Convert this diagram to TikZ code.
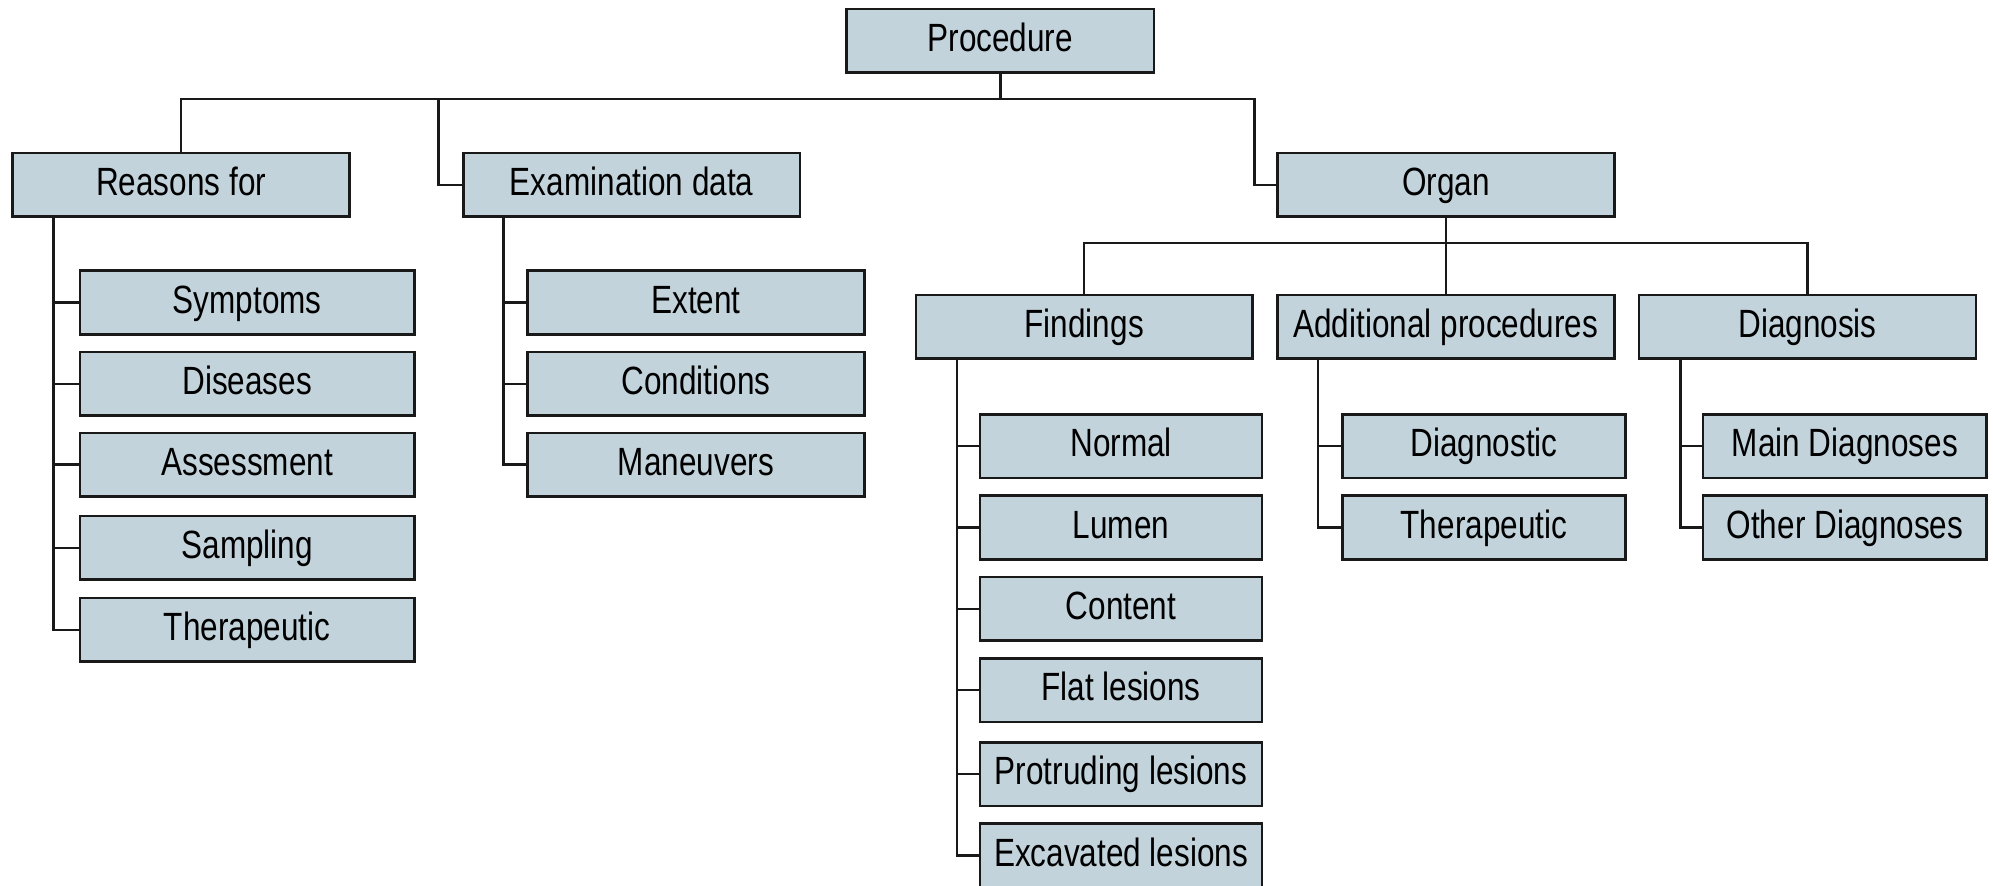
\documentclass[tikz,border=0pt]{standalone}
\usepackage{fontspec}
\setmainfont[FakeStretch=0.8]{Liberation Sans}
\definecolor{boxfill}{RGB}{194,211,220}
\begin{document}
\begin{tikzpicture}[x=1pt,y=-1pt,
  box/.style={draw=black!90, fill=boxfill, line width=2pt, inner sep=0pt,
    minimum width=265pt, minimum height=50pt, text height=23pt, text depth=6pt,
    font=\fontsize{31}{36}\selectfont},
  cw/.style={minimum width=#1pt},
  conn/.style={draw=black!90, line width=2pt}]
\useasboundingbox (0,0) rectangle (1568,697);
% top
\node[box,cw=242] (proc) at (787,32) {Procedure};
\node[box] (reasons) at (142.5,145.5) {Reasons for};
\node[box] (exam) at (497,145.5) {Examination data};
\node[box] (organ) at (1137.5,145.5) {Organ};
% reasons children
\node[box,cw=263] (rsym) at (194.5,238) {Symptoms};
\node[box,cw=263] (rdis) at (194.5,302) {Diseases};
\node[box,cw=263] (rass) at (194.5,365.5) {Assessment};
\node[box,cw=263] (rsam) at (194.5,431) {Sampling};
\node[box,cw=263] (rthe) at (194.5,495.5) {Therapeutic};
% exam children
\node[box] (eext) at (547.5,238) {Extent};
\node[box] (econ) at (547.5,302) {Conditions};
\node[box] (eman) at (547.5,365.5) {Maneuvers};
% organ children
\node[box] (find) at (853,257) {Findings};
\node[box] (addp) at (1137.5,257) {Additional procedures};
\node[box] (diag) at (1422,257) {Diagnosis};
% findings children
\node[box,cw=222] (fnor) at (882,351) {Normal};
\node[box,cw=222] (flum) at (882,415) {Lumen};
\node[box,cw=222] (fcon) at (882,479) {Content};
\node[box,cw=222] (fflt) at (882,543) {Flat lesions};
\node[box,cw=222] (fpro) at (882,609) {Protruding lesions};
\node[box,cw=222] (fexc) at (882,673) {Excavated lesions};
% additional children
\node[box,cw=223] (adia) at (1167.5,351) {Diagnostic};
\node[box,cw=223] (athe) at (1167.5,415) {Therapeutic};
% diagnosis children
\node[box,cw=223] (dmai) at (1451.5,351) {Main Diagnoses};
\node[box,cw=223] (doth) at (1451.5,415) {Other Diagnoses};
% coordinates
\coordinate (busR) at (987,78);
\coordinate (busE) at (345,78);
\coordinate (ob) at (1137.5,191);
\coordinate (rt) at (42,170);
\coordinate (et) at (396,170);
\coordinate (ft) at (753,282);
\coordinate (at) at (1037,282);
\coordinate (dt) at (1322,282);
% top connectors
\draw[conn] (proc.south) -- (proc.south |- busR);
\draw[conn] (reasons.north) |- (busR) |- (organ.west);
\draw[conn] (busE) |- (exam.west);
% organ connectors
\draw[conn] (organ.south) -- (addp.north);
\draw[conn] (find.north) |- (ob) -| (diag.north);
% children
\foreach \c in {rsym,rdis,rass,rsam,rthe} \draw[conn] (rt) |- (\c.west);
\foreach \c in {eext,econ,eman} \draw[conn] (et) |- (\c.west);
\foreach \c in {fnor,flum,fcon,fflt,fpro,fexc} \draw[conn] (ft) |- (\c.west);
\foreach \c in {adia,athe} \draw[conn] (at) |- (\c.west);
\foreach \c in {dmai,doth} \draw[conn] (dt) |- (\c.west);
\end{tikzpicture}
\end{document}
